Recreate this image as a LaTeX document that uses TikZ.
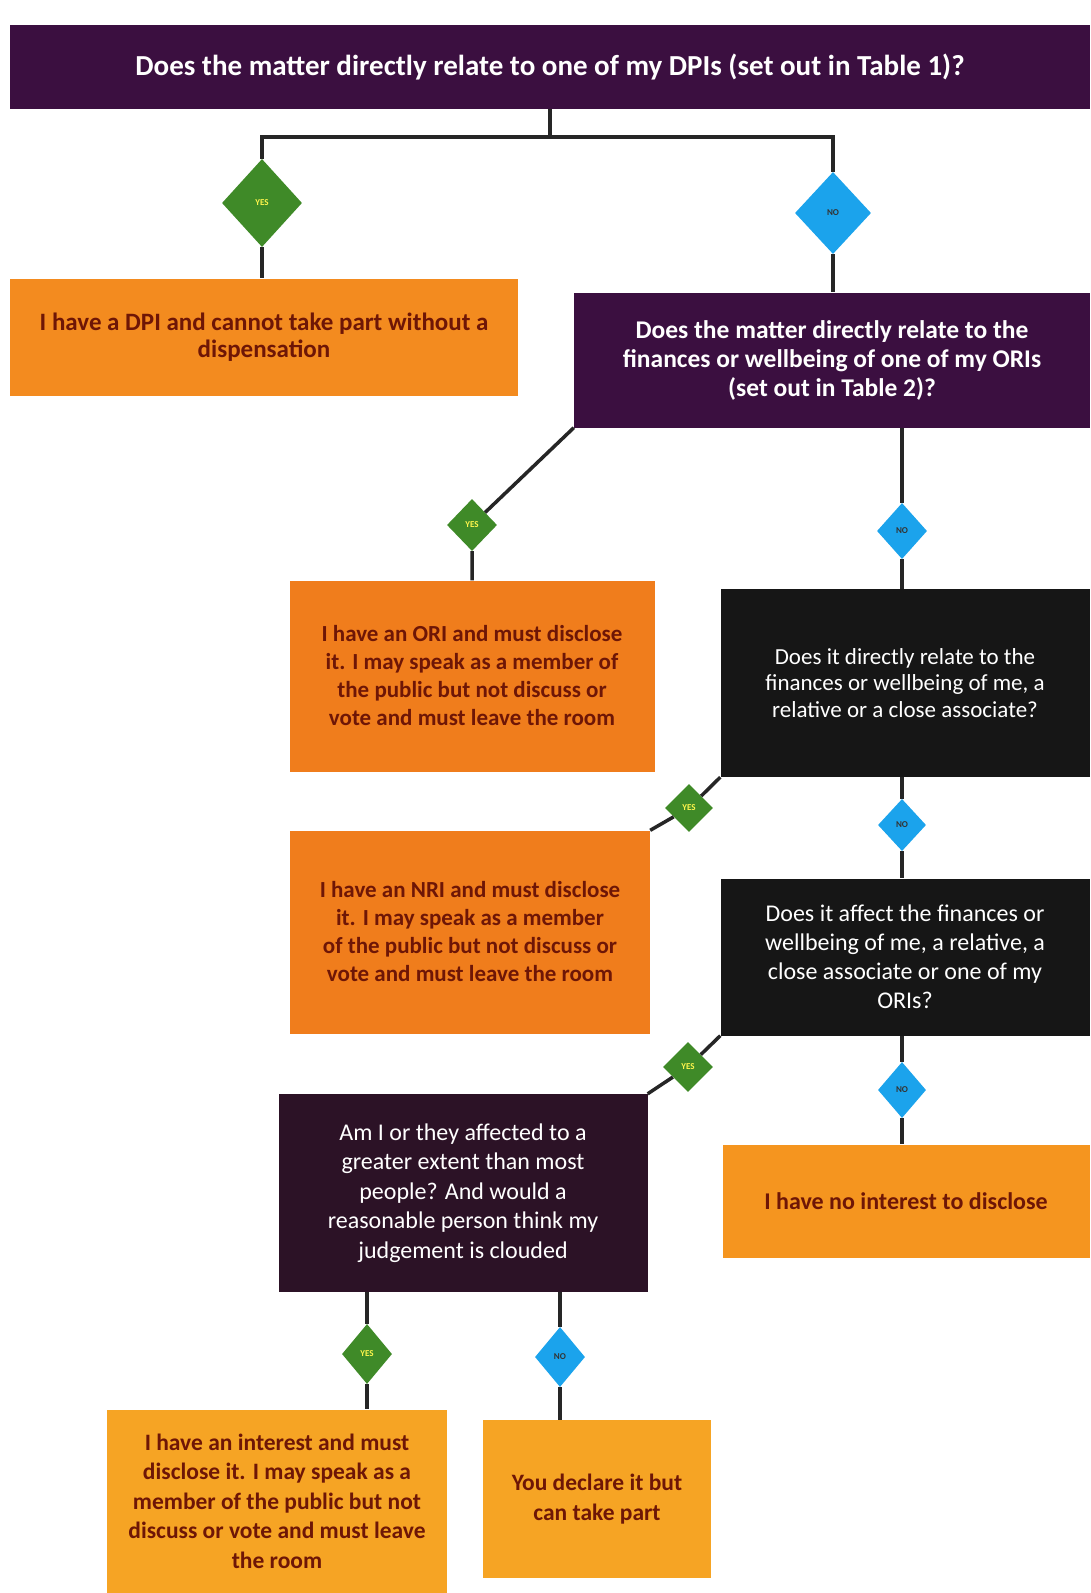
\documentclass[tikz,border=0pt]{standalone}
\usepackage{fontspec}
\setmainfont{Carlito}
\usetikzlibrary{shapes.geometric}

\definecolor{plum}{HTML}{3B0F40}
\definecolor{plumdark}{HTML}{2C1226}
\definecolor{nearblack}{HTML}{161616}
\definecolor{ambertop}{HTML}{F38B1F}
\definecolor{amberred}{HTML}{F07D1C}
\definecolor{amberlight}{HTML}{F6A424}
\definecolor{ambermid}{HTML}{F5951F}
\definecolor{yesgreen}{HTML}{3F8A28}
\definecolor{nocyan}{HTML}{1BA3EC}
\definecolor{rusttext}{HTML}{6E1606}

\tikzset{
  ask/.style={rectangle, fill=#1, text=white, align=center, inner sep=0pt},
  tell/.style={rectangle, fill=#1, text=rusttext, align=center, inner sep=0pt,
    font=\bfseries\fontsize{23}{28}\selectfont},
  yesdiam/.style={diamond, fill=yesgreen, inner sep=0pt, text=yellow!70!white,
    font=\bfseries\fontsize{9}{9}\selectfont},
  nodiam/.style={diamond, fill=nocyan, inner sep=0pt, text=black!80,
    font=\bfseries\fontsize{9}{9}\selectfont},
  link/.style={line width=3.5pt, draw=black!85}
}

\begin{document}
\begin{tikzpicture}[x=1pt,y=-1pt]
  %%%%% START %%%%%
  \useasboundingbox[fill=white] (0,0) rectangle (1090,1593);

  \node[ask=plum, minimum width=1080, minimum height=84,
    font=\bfseries\fontsize{29}{32}\selectfont] (q1) at (550,67)
    {Does the matter directly relate to one of my DPIs (set out in Table 1)?};

  \node[yesdiam, minimum width=80, minimum height=88] (yes1) at (262,203) {YES};
  \node[nodiam, minimum width=76, minimum height=82] (no1) at (833,213) {NO};

  \node[tell=ambertop, minimum width=508, minimum height=117,
    font=\bfseries\fontsize{25}{27}\selectfont] (dpi) at (264,337)
    {I have a DPI and cannot take part without a\\dispensation};
  \node[ask=plum, minimum width=516, minimum height=135,
    font=\bfseries\fontsize{25.5}{29}\selectfont] (q2) at (832,360)
    {Does the matter directly relate to the\\finances or wellbeing of one of my ORIs\\(set out in Table 2)?};

  \node[yesdiam, minimum width=50, minimum height=52] (yes2) at (472,525) {YES};
  \node[nodiam, minimum width=50, minimum height=56] (no2) at (902,531) {NO};

  \node[tell=amberred, minimum width=365, minimum height=191] (ori) at (472,676)
    {I have an ORI and must disclose\\it. I may speak as a member of\\the public but not discuss or\\vote and must leave the room};
  \node[ask=nearblack, minimum width=369, minimum height=188,
    font=\fontsize{23}{26.5}\selectfont] (q3) at (905,683)
    {Does it directly relate to the\\finances or wellbeing of me, a\\relative or a close associate?};

  \node[yesdiam, minimum width=48, minimum height=48] (yes3) at (689,808) {YES};
  \node[nodiam, minimum width=48, minimum height=52] (no3) at (902,825) {NO};

  \node[tell=amberred, minimum width=360, minimum height=203] (nri) at (470,932)
    {I have an NRI and must disclose\\it. I may speak as a member\\of the public but not discuss or\\vote and must leave the room};
  \node[ask=nearblack, minimum width=369, minimum height=157,
    font=\fontsize{24}{29}\selectfont] (q4) at (905,957)
    {Does it affect the finances or\\wellbeing of me, a relative, a\\close associate or one of my\\ORIs?};

  \node[yesdiam, minimum width=50, minimum height=50] (yes4) at (688,1067) {YES};
  \node[nodiam, minimum width=48, minimum height=56] (no4) at (902,1090) {NO};

  \node[ask=plumdark, minimum width=369, minimum height=198,
    font=\fontsize{24}{29.5}\selectfont] (q5) at (463,1193)
    {Am I or they affected to a\\greater extent than most\\people? And would a\\reasonable person think my\\judgement is clouded};
  \node[tell=ambermid, minimum width=367, minimum height=113,
    font=\bfseries\fontsize{24}{28}\selectfont] (none) at (906,1201)
    {I have no interest to disclose};

  \node[yesdiam, minimum width=50, minimum height=60] (yes5) at (367,1354) {YES};
  \node[nodiam, minimum width=50, minimum height=60] (no5) at (560,1357) {NO};

  \node[tell=amberlight, minimum width=340, minimum height=183,
    font=\bfseries\fontsize{23.5}{29.5}\selectfont] (int) at (277,1501)
    {I have an interest and must\\disclose it. I may speak as a\\member of the public but not\\discuss or vote and must leave\\the room};
  \node[tell=amberlight, minimum width=228, minimum height=158,
    font=\bfseries\fontsize{23.5}{30}\selectfont] (decl) at (597,1499)
    {You declare it but\\can take part};

  % connectors
  \coordinate (forkL) at (262,137);
  \coordinate (forkR) at (833,137);
  \draw[link] (q1.south) -- (q1.south |- forkL);
  \draw[link] (yes1) -- (forkL) -- (forkR) -- (no1);
  \draw[link] (yes1) -- (yes1 |- dpi.north);
  \draw[link] (no1) -- (no1 |- q2.north);

  \draw[link] (q2.south west) -- (yes2) -- (yes2 |- ori.north);
  \draw[link] (no2 |- q2.south) -- (no2) -- (no2 |- q3.north);

  \draw[link] (q3.south west) -- (yes3) -- (nri.north east);
  \draw[link] (no3 |- q3.south) -- (no3) -- (no3 |- q4.north);

  \draw[link] (q4.south west) -- (yes4) -- (q5.north east);
  \draw[link] (no4 |- q4.south) -- (no4) -- (no4 |- none.north);

  \draw[link] (yes5 |- q5.south) -- (yes5) -- (yes5 |- int.north);
  \draw[link] (no5 |- q5.south) -- (no5) -- (no5 |- decl.north);
  %%%%% END %%%%%
\end{tikzpicture}
\end{document}
